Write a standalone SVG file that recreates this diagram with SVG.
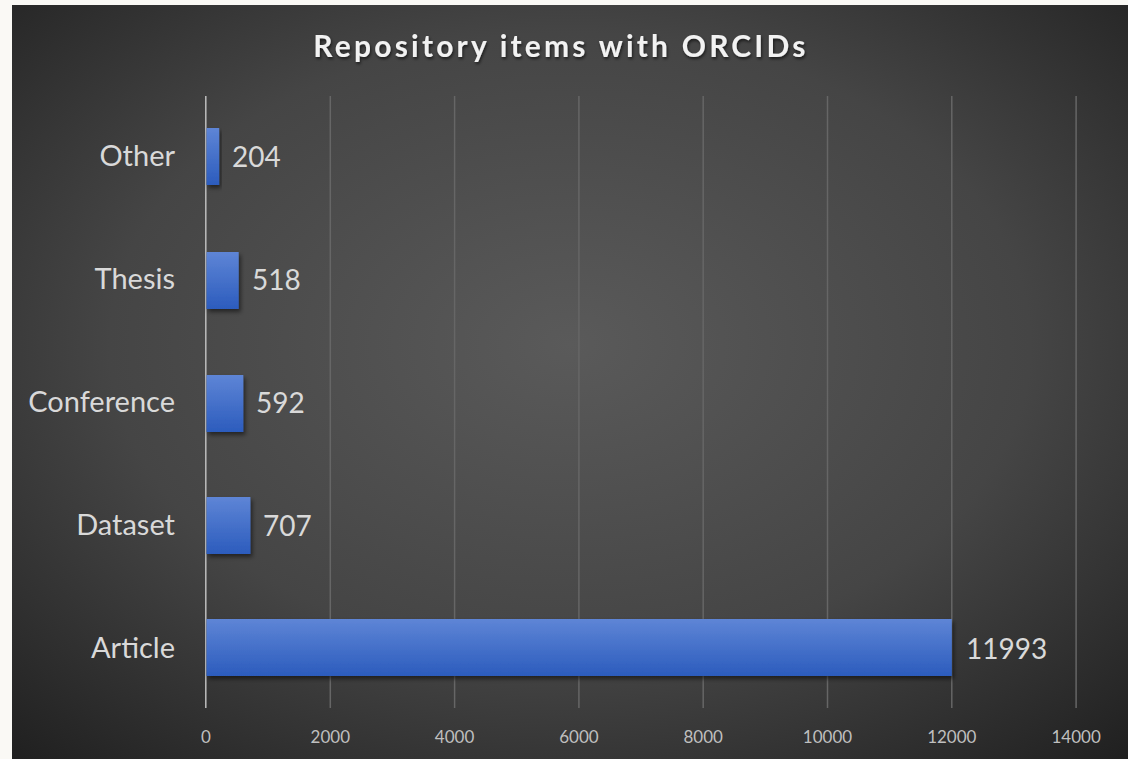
<svg xmlns="http://www.w3.org/2000/svg" width="1128" height="759" viewBox="0 0 1128 759">
<defs>
<radialGradient id="bg" cx="50%" cy="45%" r="75%">
<stop offset="0" stop-color="#5a5a5a"/>
<stop offset="0.55" stop-color="#454545"/>
<stop offset="1" stop-color="#1f1f1f"/>
</radialGradient>
<linearGradient id="bar" x1="0" y1="0" x2="0" y2="1">
<stop offset="0" stop-color="#5e85d6"/>
<stop offset="1" stop-color="#2c5cbd"/>
</linearGradient>
<filter id="sh" x="-10%" y="-20%" width="130%" height="150%">
<feDropShadow dx="2" dy="3" stdDeviation="2" flood-color="#000" flood-opacity="0.5"/>
</filter>
<filter id="tsh" x="-5%" y="-30%" width="110%" height="160%">
<feDropShadow dx="1" dy="2" stdDeviation="1.5" flood-color="#000" flood-opacity="0.6"/>
</filter>
</defs>
<style>
.cat{font-family:Lato,"Open Sans",sans-serif;font-size:29px;fill:#d9d9d9;text-anchor:end}
.val{font-family:Lato,"Open Sans",sans-serif;font-size:28px;fill:#d9d9d9}
.tick{font-family:Lato,"Open Sans",sans-serif;font-size:17px;fill:#bfbfbf;text-anchor:middle}
.grid{stroke:#666;stroke-width:1.5}
.bar{fill:url(#bar);filter:url(#sh)}
</style>
<rect x="0" y="0" width="1128" height="759" fill="#faf9f5"/>
<rect x="12" y="5" width="1116" height="754" fill="url(#bg)"/>
<text x="561" y="57" font-family="Lato,'Open Sans',sans-serif" font-size="30" font-weight="bold" fill="#f2f2f2" text-anchor="middle" letter-spacing="3.2" filter="url(#tsh)">Repository items with ORCIDs</text>
<g id="gridlines">
<line class="grid" x1="330.3" y1="96" x2="330.3" y2="708"/>
<line class="grid" x1="454.6" y1="96" x2="454.6" y2="708"/>
<line class="grid" x1="578.9" y1="96" x2="578.9" y2="708"/>
<line class="grid" x1="703.2" y1="96" x2="703.2" y2="708"/>
<line class="grid" x1="827.5" y1="96" x2="827.5" y2="708"/>
<line class="grid" x1="951.8" y1="96" x2="951.8" y2="708"/>
<line class="grid" x1="1076.1" y1="96" x2="1076.1" y2="708"/>
<line x1="205.8" y1="96" x2="205.8" y2="708" stroke="#bdbdbd" stroke-width="1.5"/>
</g>
<g id="ticks">
<text class="tick" x="206" y="743">0</text>
<text class="tick" x="330.3" y="743">2000</text>
<text class="tick" x="454.6" y="743">4000</text>
<text class="tick" x="578.9" y="743">6000</text>
<text class="tick" x="703.2" y="743">8000</text>
<text class="tick" x="827.5" y="743">10000</text>
<text class="tick" x="951.8" y="743">12000</text>
<text class="tick" x="1076.1" y="743">14000</text>
</g>
<g id="other">
<rect class="bar" x="206.5" y="128" width="12.7" height="57"/>
<text class="cat" x="175" y="166">Other</text>
<text class="val" x="232" y="167">204</text>
</g>
<g id="thesis">
<rect class="bar" x="206.5" y="252" width="32.2" height="57"/>
<text class="cat" x="175" y="289">Thesis</text>
<text class="val" x="252" y="290">518</text>
</g>
<g id="conference">
<rect class="bar" x="206.5" y="375" width="36.8" height="57"/>
<text class="cat" x="175" y="412">Conference</text>
<text class="val" x="256" y="413">592</text>
</g>
<g id="dataset">
<rect class="bar" x="206.5" y="497" width="43.9" height="57"/>
<text class="cat" x="175" y="535">Dataset</text>
<text class="val" x="263" y="536">707</text>
</g>
<g id="article">
<rect class="bar" x="206.5" y="619" width="745.3" height="57"/>
<text class="cat" x="175" y="658">Article</text>
<text class="val" x="966" y="659">11993</text>
</g>
</svg>
